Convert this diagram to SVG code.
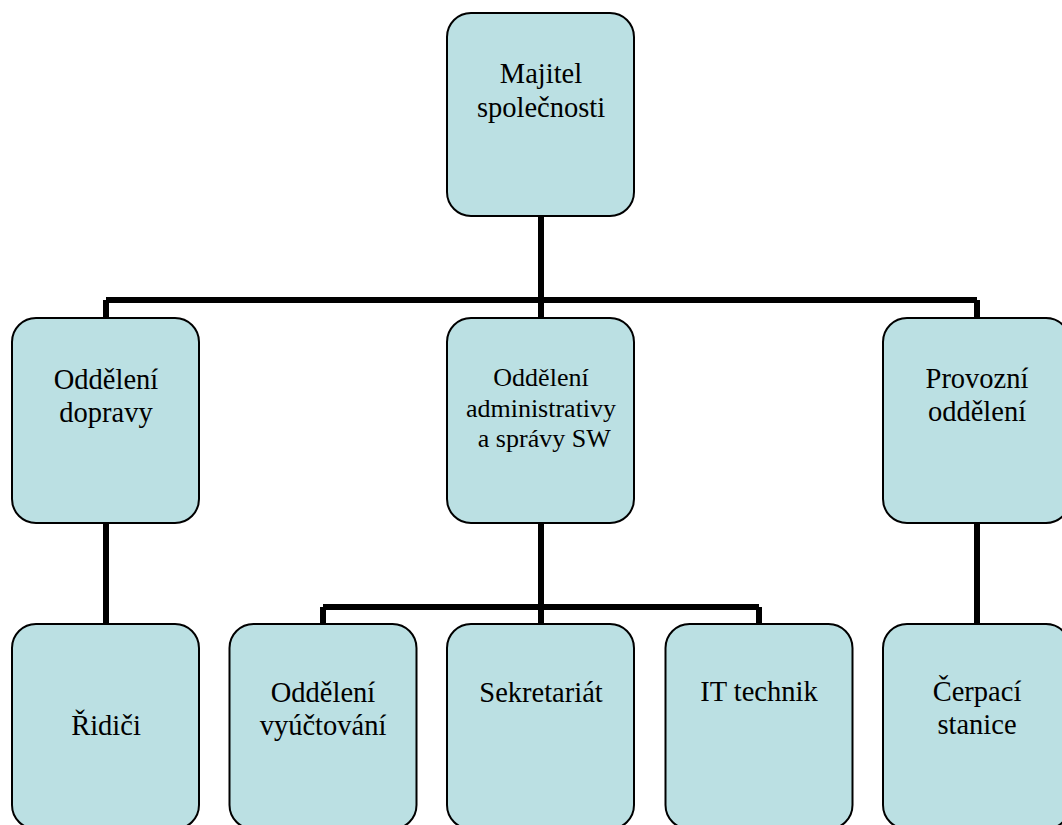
<svg xmlns="http://www.w3.org/2000/svg" width="1062" height="825" viewBox="0 0 1062 825">
<style>
.box{fill:#BBE0E3;stroke:#000;stroke-width:2}
text{font-family:'Liberation Serif','Times New Roman',serif;font-size:28.5px;fill:#000;text-anchor:middle}
text.s{font-size:26px}
.c{fill:none;stroke:#000;stroke-width:6}
</style>
<rect width="1062" height="825" fill="#fff"/>
<g id="connectors">
<path class="c" d="M541 216V300M106 300H977M106 300V318M541 300V318M977 300V318"/>
<path class="c" d="M106 523V624M977 523V624"/>
<path class="c" d="M541 523V607M323 607H759M323 607V624M541 607V624M759 607V624"/>
</g>
<g id="majitel">
<rect class="box" x="447" y="13" width="187" height="203" rx="24"/>
<text x="541" y="83">Majitel</text>
<text x="541" y="117">společnosti</text>
</g>
<g id="doprava">
<rect class="box" x="12" y="318" width="187" height="205" rx="24"/>
<text x="106" y="389">Oddělení</text>
<text x="106" y="422">dopravy</text>
</g>
<g id="administrativa">
<rect class="box" x="447" y="318" width="187" height="205" rx="24"/>
<text class="s" x="541" y="386">Oddělení</text>
<text class="s" x="541" y="417">administrativy</text>
<text class="s" x="541" y="447" xml:space="preserve"> a správy SW</text>
</g>
<g id="provozni">
<rect class="box" x="883" y="318" width="187" height="205" rx="24"/>
<text x="977" y="388">Provozní</text>
<text x="977" y="421">oddělení</text>
</g>
<g id="ridici">
<rect class="box" x="12" y="624" width="187" height="205" rx="24"/>
<text x="106" y="735">Řidiči</text>
</g>
<g id="vyuctovani">
<rect class="box" x="229.5" y="624" width="187" height="205" rx="24"/>
<text x="323" y="702">Oddělení</text>
<text x="323" y="735">vyúčtování</text>
</g>
<g id="sekretariat">
<rect class="box" x="447" y="624" width="187" height="205" rx="24"/>
<text x="541" y="702">Sekretariát</text>
</g>
<g id="it">
<rect class="box" x="665.5" y="624" width="187" height="205" rx="24"/>
<text x="759" y="701">IT technik</text>
</g>
<g id="cerpaci">
<rect class="box" x="883" y="624" width="187" height="205" rx="24"/>
<text x="977" y="701">Čerpací</text>
<text x="977" y="734">stanice</text>
</g>
</svg>
